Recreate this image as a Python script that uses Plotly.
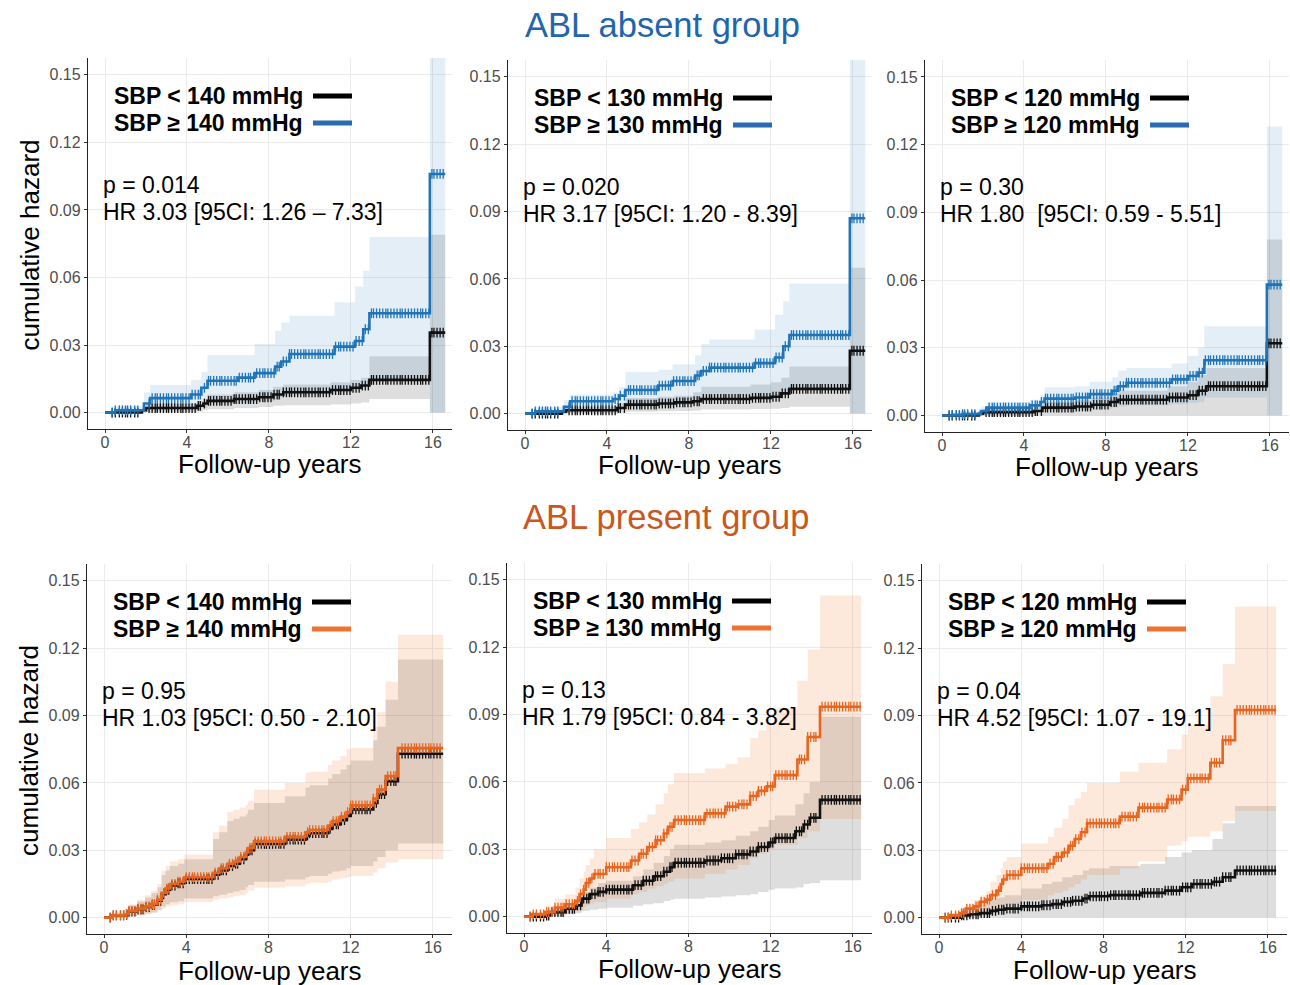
import numpy as np
import plotly.graph_objects as go

# ---------------- data ----------------
# Panel 1: ABL absent, SBP 140
P1_BLK_T = [0, 1.8, 2.0, 4.5, 4.8, 5.0, 6.3, 7.5, 8.2, 8.7, 11.0, 12.0, 12.5, 12.9, 15.85, 16.6]
P1_BLK_V = [0, 0.001, 0.002, 0.003, 0.004, 0.0052, 0.006, 0.0068, 0.008, 0.009, 0.010, 0.011, 0.012, 0.0145, 0.0355, 0.0355]
P1_BLK_HI = [0, 0.002, 0.004, 0.005, 0.006, 0.008, 0.009, 0.010, 0.0115, 0.0125, 0.0135, 0.0145, 0.0155, 0.025, 0.079, 0.079]
P1_BLK_LO = [0, 0, 0.0003, 0.0005, 0.001, 0.0015, 0.002, 0.0025, 0.003, 0.0033, 0.0036, 0.004, 0.0045, 0.006, 0, 0]
P1_COL_T = [0, 0.5, 1.9, 2.2, 4.2, 4.7, 5.0, 6.5, 7.3, 8.3, 8.6, 9.0, 11.2, 12.2, 12.6, 12.9, 15.85, 16.6]
P1_COL_V = [0, 0.001, 0.004, 0.0064, 0.008, 0.011, 0.0141, 0.0155, 0.0175, 0.0204, 0.0227, 0.026, 0.0293, 0.0318, 0.037, 0.0441, 0.106, 0.106]
P1_COL_HI = [0, 0.003, 0.009, 0.0123, 0.0145, 0.018, 0.0256, 0.0256, 0.0305, 0.0363, 0.040, 0.043, 0.049, 0.056, 0.063, 0.078, 0.17, 0.17]
P1_COL_LO = [0, 0, 0.0003, 0.001, 0.0015, 0.002, 0.004, 0.0045, 0.005, 0.006, 0.007, 0.008, 0.009, 0.010, 0.012, 0.015, 0, 0]

# Panel 2: ABL absent, SBP 130
P2_BLK_T = [0, 1.8, 2.0, 4.5, 4.9, 6.5, 7.3, 8.2, 8.6, 11.0, 12.0, 12.5, 12.9, 15.85, 16.6]
P2_BLK_V = [0, 0.0008, 0.0015, 0.0025, 0.004, 0.0045, 0.005, 0.0055, 0.0065, 0.007, 0.0075, 0.009, 0.011, 0.028, 0.028]
P2_BLK_HI = [0, 0.002, 0.003, 0.0045, 0.007, 0.0075, 0.008, 0.0095, 0.012, 0.013, 0.014, 0.016, 0.021, 0.065, 0.065]
P2_BLK_LO = [0, 0, 0.0002, 0.0004, 0.0008, 0.001, 0.0012, 0.0014, 0.0018, 0.002, 0.0022, 0.0025, 0.003, 0, 0]
P2_COL_T = [0, 0.5, 1.9, 2.2, 4.3, 4.6, 4.9, 6.5, 7.2, 8.3, 8.6, 9.0, 11.2, 12.2, 12.6, 12.9, 15.85, 16.6]
P2_COL_V = [0, 0.001, 0.003, 0.0055, 0.0065, 0.008, 0.0105, 0.0125, 0.0145, 0.017, 0.019, 0.0205, 0.0225, 0.025, 0.030, 0.035, 0.087, 0.087]
P2_COL_HI = [0, 0.003, 0.006, 0.0085, 0.0095, 0.012, 0.0185, 0.0195, 0.022, 0.026, 0.031, 0.033, 0.0375, 0.044, 0.050, 0.058, 0.17, 0.17]
P2_COL_LO = [0, 0, 0.0003, 0.001, 0.0012, 0.002, 0.003, 0.0035, 0.004, 0.005, 0.0055, 0.006, 0.007, 0.008, 0.010, 0.012, 0, 0]

# Panel 3: ABL absent, SBP 120
P3_BLK_T = [0, 1.8, 2.0, 4.5, 4.9, 6.5, 7.3, 8.2, 8.6, 11.0, 12.0, 12.5, 12.9, 15.85, 16.6]
P3_BLK_V = [0, 0.0008, 0.0015, 0.002, 0.0035, 0.004, 0.0048, 0.006, 0.007, 0.008, 0.009, 0.011, 0.013, 0.032, 0.032]
P3_BLK_HI = [0, 0.002, 0.003, 0.004, 0.006, 0.007, 0.008, 0.010, 0.011, 0.013, 0.015, 0.018, 0.021, 0.078, 0.078]
P3_BLK_LO = [0, 0, 0, 0, 0, 0, 0, 0, 0, 0, 0, 0, 0, 0, 0]
P3_COL_T = [0, 0.5, 1.0, 1.9, 2.2, 4.3, 4.8, 5.0, 6.5, 7.2, 8.3, 8.6, 9.0, 11.2, 12.0, 12.5, 12.8, 15.85, 16.6]
P3_COL_V = [0, 0.0003, 0.0006, 0.002, 0.0035, 0.0045, 0.006, 0.0075, 0.008, 0.0095, 0.011, 0.013, 0.0145, 0.016, 0.0175, 0.019, 0.0245, 0.058, 0.058]
P3_COL_HI = [0, 0.001, 0.002, 0.004, 0.006, 0.007, 0.009, 0.0125, 0.013, 0.015, 0.017, 0.020, 0.021, 0.023, 0.0265, 0.030, 0.0395, 0.128, 0.128]
P3_COL_LO = [0, 0, 0, 0.0002, 0.0005, 0.001, 0.0015, 0.002, 0.0025, 0.003, 0.0035, 0.004, 0.0045, 0.005, 0.0055, 0.006, 0.008, 0, 0]

# Panel 4: ABL present, SBP 140
P4_COL_T = [0, 0.4, 1.0, 1.2, 1.6, 2.0, 2.3, 2.6, 2.8, 3.0, 3.2, 3.6, 3.9, 5.3, 5.6, 6.0, 6.3, 6.6, 6.9, 7.0, 7.3,
            8.8, 9.8, 10.0, 10.9, 11.1, 11.5, 11.8, 12.0, 13.1, 13.3, 13.7, 14.3, 16.5]
P4_COL_V = [0, 0.001, 0.0015, 0.003, 0.004, 0.005, 0.006, 0.008, 0.011, 0.013, 0.015, 0.016, 0.018, 0.020, 0.022, 0.024,
            0.025, 0.027, 0.029, 0.031, 0.034, 0.036, 0.038, 0.039, 0.041, 0.043, 0.045, 0.047, 0.050, 0.053, 0.057,
            0.063, 0.0755, 0.0755]
P4_COL_HI = [0, 0.002, 0.004, 0.006, 0.008, 0.010, 0.012, 0.015, 0.021, 0.023, 0.025, 0.026, 0.028, 0.038, 0.041, 0.047,
             0.048, 0.049, 0.050, 0.052, 0.057, 0.060, 0.0645, 0.065, 0.068, 0.070, 0.072, 0.075, 0.0756, 0.085, 0.0915,
             0.105, 0.126, 0.126]
P4_COL_LO = [0, 0, 0.0002, 0.0005, 0.001, 0.0015, 0.002, 0.003, 0.004, 0.005, 0.0055, 0.006, 0.007, 0.008, 0.0085, 0.009,
             0.0095, 0.010, 0.011, 0.012, 0.0133, 0.014, 0.015, 0.0155, 0.016, 0.017, 0.0175, 0.018, 0.0185, 0.020, 0.022,
             0.0245, 0.026, 0.026]
P4_BLK_T = P4_COL_T
P4_BLK_V = [0, 0.001, 0.0012, 0.0027, 0.0037, 0.0047, 0.0057, 0.0075, 0.0104, 0.0124, 0.0143, 0.0153, 0.0172, 0.0191,
            0.021, 0.023, 0.024, 0.026, 0.028, 0.030, 0.0328, 0.0347, 0.0366, 0.0376, 0.0395, 0.0415, 0.0434, 0.0453,
            0.0482, 0.0511, 0.055, 0.0608, 0.073, 0.073]
P4_BLK_HI = [0, 0.0018, 0.0035, 0.0055, 0.0072, 0.009, 0.011, 0.0135, 0.019, 0.021, 0.023, 0.024, 0.026, 0.035, 0.038,
             0.043, 0.044, 0.045, 0.046, 0.048, 0.051, 0.054, 0.058, 0.059, 0.062, 0.064, 0.066, 0.068, 0.070, 0.079,
             0.085, 0.097, 0.115, 0.115]
P4_BLK_LO = [0, 0, 0.0002, 0.0007, 0.0012, 0.0018, 0.0024, 0.0035, 0.005, 0.006, 0.0068, 0.0073, 0.0085, 0.0095, 0.0102,
             0.011, 0.0116, 0.0123, 0.0135, 0.0145, 0.016, 0.017, 0.018, 0.0185, 0.0195, 0.0205, 0.021, 0.022, 0.023,
             0.025, 0.027, 0.030, 0.033, 0.033]

# Panel 5: ABL present, SBP 130
P5_COL_T = [0, 0.4, 1.0, 1.5, 2.0, 2.5, 2.7, 2.9, 3.0, 3.2, 3.4, 4.0, 5.2, 5.6, 6.0, 6.4, 6.8, 7.0, 7.3, 8.8, 9.8, 10.4,
            11.0, 11.4, 11.8, 12.2, 13.3, 13.8, 14.4, 16.4]
P5_COL_V = [0, 0.001, 0.002, 0.004, 0.0055, 0.007, 0.010, 0.012, 0.015, 0.017, 0.019, 0.022, 0.025, 0.028, 0.031, 0.034,
            0.037, 0.040, 0.043, 0.046, 0.049, 0.050, 0.0537, 0.056, 0.058, 0.063, 0.070, 0.080, 0.0935, 0.0935]
P5_COL_HI = [0, 0.002, 0.005, 0.008, 0.010, 0.013, 0.017, 0.020, 0.023, 0.026, 0.030, 0.035, 0.039, 0.042, 0.0455, 0.050,
             0.055, 0.059, 0.064, 0.066, 0.068, 0.071, 0.0795, 0.083, 0.086, 0.093, 0.105, 0.119, 0.143, 0.143]
P5_COL_LO = [0, 0, 0.0003, 0.0008, 0.0015, 0.0022, 0.003, 0.004, 0.005, 0.0058, 0.0065, 0.008, 0.010, 0.011, 0.0125,
             0.0135, 0.0145, 0.0155, 0.017, 0.019, 0.021, 0.023, 0.026, 0.028, 0.030, 0.032, 0.035, 0.038, 0.0435, 0.0435]
P5_BLK_T = [0, 1.0, 1.3, 2.0, 2.5, 2.8, 3.2, 3.6, 4.0, 5.3, 5.8, 6.3, 6.8, 7.1, 7.3, 8.8, 9.6, 10.3, 11.0, 11.4, 11.9,
            12.2, 13.2, 13.6, 13.9, 14.4, 16.4]
P5_BLK_V = [0, 0.0005, 0.002, 0.0035, 0.005, 0.008, 0.010, 0.011, 0.012, 0.014, 0.016, 0.018, 0.020, 0.022, 0.024, 0.025,
            0.026, 0.0277, 0.029, 0.031, 0.033, 0.035, 0.038, 0.041, 0.044, 0.052, 0.052]
P5_BLK_HI = [0, 0.0015, 0.004, 0.006, 0.008, 0.011, 0.013, 0.015, 0.016, 0.018, 0.021, 0.024, 0.027, 0.030, 0.032, 0.033,
             0.034, 0.036, 0.038, 0.040, 0.043, 0.045, 0.050, 0.055, 0.060, 0.089, 0.089]
P5_BLK_LO = [0, 0, 0.0003, 0.001, 0.0015, 0.0025, 0.003, 0.0035, 0.004, 0.0048, 0.0055, 0.006, 0.007, 0.0075, 0.008,
             0.0085, 0.009, 0.0095, 0.010, 0.011, 0.012, 0.0125, 0.013, 0.0145, 0.015, 0.0162, 0.0162]

# Panel 6: ABL present, SBP 120
P6_COL_T = [0, 0.5, 1.0, 1.3, 1.7, 2.0, 2.3, 2.5, 2.8, 3.0, 3.1, 3.3, 4.0, 5.3, 5.6, 6.0, 6.3, 6.6, 6.9, 7.2, 8.8, 9.7,
            11.1, 11.8, 12.1, 13.2, 13.8, 14.4, 16.4]
P6_COL_V = [0, 0.001, 0.002, 0.004, 0.005, 0.007, 0.008, 0.010, 0.012, 0.015, 0.017, 0.019, 0.022, 0.024, 0.027, 0.029,
            0.032, 0.035, 0.038, 0.042, 0.045, 0.049, 0.0526, 0.057, 0.062, 0.069, 0.079, 0.0925, 0.0925]
P6_COL_HI = [0, 0.002, 0.004, 0.006, 0.008, 0.010, 0.012, 0.016, 0.019, 0.022, 0.025, 0.027, 0.033, 0.036, 0.040, 0.044,
             0.050, 0.053, 0.056, 0.060, 0.065, 0.069, 0.075, 0.0815, 0.086, 0.0986, 0.113, 0.1386, 0.1386]
P6_COL_LO = [0, 0, 0.0002, 0.0006, 0.001, 0.0015, 0.002, 0.003, 0.004, 0.005, 0.0055, 0.006, 0.008, 0.010, 0.011, 0.012,
             0.0135, 0.015, 0.017, 0.019, 0.022, 0.025, 0.032, 0.034, 0.036, 0.0385, 0.043, 0.0475, 0.0475]
P6_BLK_T = [0, 1.1, 1.5, 2.0, 2.5, 2.8, 3.2, 4.0, 5.0, 5.5, 6.0, 6.5, 7.0, 7.3, 8.3, 9.8, 11.0, 11.8, 12.3, 13.3, 13.8,
            14.4, 16.4]
P6_BLK_V = [0, 0.001, 0.0015, 0.002, 0.003, 0.0035, 0.004, 0.005, 0.0055, 0.006, 0.007, 0.0075, 0.0085, 0.0095, 0.010,
            0.011, 0.012, 0.0135, 0.015, 0.016, 0.018, 0.021, 0.021]
P6_BLK_HI = [0, 0.004, 0.005, 0.006, 0.008, 0.009, 0.010, 0.013, 0.015, 0.016, 0.018, 0.019, 0.021, 0.022, 0.023, 0.024,
             0.027, 0.029, 0.030, 0.035, 0.042, 0.0497, 0.0497]
P6_BLK_LO = [0, 0, 0, 0, 0, 0, 0, 0, 0, 0, 0, 0, 0, 0, 0, 0, 0, 0, 0, 0, 0, 0, 0]

# censoring times (dense tick marks on the curves)
CENSOR_TOP = [0.35, 0.5, 0.7, 0.85, 1.0, 1.1, 1.25, 1.45, 1.6, 2.15, 2.3, 2.45, 2.55, 2.7, 2.85, 3.0, 3.1, 3.25, 3.4,
              3.55, 3.7, 3.8, 3.95, 4.1, 4.25, 4.4, 4.55, 4.65, 4.85, 5.05, 5.15, 5.3, 5.45, 5.6, 5.7, 5.85, 6.0, 6.15,
              6.3, 6.4, 6.55, 6.7, 6.85, 7.0, 7.1, 7.25, 7.4, 7.55, 7.7, 7.8, 7.95, 8.1, 8.25, 8.4, 8.5, 8.7, 8.85,
              9.0, 9.1, 9.25, 9.4, 9.55, 9.7, 9.8, 9.95, 10.1, 10.25, 10.4, 10.5, 10.65, 10.8, 10.95, 11.1, 11.25,
              11.4, 11.5, 11.65, 11.8, 11.95, 12.1, 12.25, 12.4, 12.55, 12.7, 12.85, 13.0, 13.1, 13.25, 13.4, 13.55,
              13.7, 13.8, 13.95, 14.1, 14.25, 14.4, 14.5, 14.65, 14.8, 14.95, 15.1, 15.25, 15.4, 15.5, 15.65, 15.8,
              15.95, 16.05, 16.2, 16.35, 16.5]
CENSOR_BOT = [0.3, 0.45, 0.6, 0.8, 0.95, 1.1, 1.2, 1.35, 1.5, 1.65, 1.8, 1.9, 2.05, 2.2, 2.35, 2.45, 2.6, 2.75, 2.9,
              3.05, 3.15, 3.3, 3.45, 3.6, 3.7, 3.85, 4.0, 4.15, 4.3, 4.4, 4.55, 4.7, 4.85, 5.0, 5.1, 5.25, 5.4, 5.55,
              5.7, 5.8, 5.95, 6.1, 6.25, 6.4, 6.5, 6.65, 6.8, 6.95, 7.1, 7.2, 7.35, 7.5, 7.65, 7.8, 7.9, 8.05, 8.2,
              8.35, 8.5, 8.6, 8.75, 8.9, 9.05, 9.2, 9.3, 9.45, 9.6, 9.75, 9.9, 10.0, 10.15, 10.3, 10.45, 10.6, 10.7,
              10.85, 11.0, 11.15, 11.3, 11.4, 11.55, 11.7, 11.85, 12.0, 12.1, 12.25, 12.4, 12.55, 12.7, 12.8, 12.95,
              13.1, 13.25, 13.4, 13.5, 13.65, 13.8, 13.95, 14.1, 14.2, 14.5, 14.65, 14.8, 14.95, 15.1, 15.2, 15.35,
              15.5, 15.65, 15.8, 15.9, 16.05, 16.2, 16.35]

SBP_CUTS = ["140", "130", "120"]
STATS_P = ["p = 0.014", "p = 0.020", "p = 0.30", "p = 0.95", "p = 0.13", "p = 0.04"]
STATS_HR = ["HR 3.03 [95CI: 1.26 – 7.33]", "HR 3.17 [95CI: 1.20 - 8.39]", "HR 1.80  [95CI: 0.59 - 5.51]",
            "HR 1.03 [95CI: 0.50 - 2.10]", "HR 1.79 [95CI: 0.84 - 3.82]", "HR 4.52 [95CI: 1.07 - 19.1]"]
GROUP_TITLES = ["ABL absent group", "ABL present group"]
X_TICKS = [0, 4, 8, 12, 16]
Y_TICKS = [0.00, 0.03, 0.06, 0.09, 0.12, 0.15]

PANELS = [
    (P1_BLK_T, P1_BLK_V, P1_BLK_LO, P1_BLK_HI, P1_COL_T, P1_COL_V, P1_COL_LO, P1_COL_HI),
    (P2_BLK_T, P2_BLK_V, P2_BLK_LO, P2_BLK_HI, P2_COL_T, P2_COL_V, P2_COL_LO, P2_COL_HI),
    (P3_BLK_T, P3_BLK_V, P3_BLK_LO, P3_BLK_HI, P3_COL_T, P3_COL_V, P3_COL_LO, P3_COL_HI),
    (P4_BLK_T, P4_BLK_V, P4_BLK_LO, P4_BLK_HI, P4_COL_T, P4_COL_V, P4_COL_LO, P4_COL_HI),
    (P5_BLK_T, P5_BLK_V, P5_BLK_LO, P5_BLK_HI, P5_COL_T, P5_COL_V, P5_COL_LO, P5_COL_HI),
    (P6_BLK_T, P6_BLK_V, P6_BLK_LO, P6_BLK_HI, P6_COL_T, P6_COL_V, P6_COL_LO, P6_COL_HI),
]

# ---------------- styling / layout ----------------
W, H = 1290, 985
FONT = "Liberation Sans, Arial, sans-serif"
BLUE = "#1f74b8"
BLUE_LEG = "#2b6cb0"
ORANGE = "#e8651e"
ORANGE_LEG = "#f07232"
BAND_GREY = "rgba(0,0,0,0.13)"
BAND_BLUE = "rgba(31,119,180,0.12)"
BAND_ORANGE = "rgba(240,112,40,0.16)"

# panel boxes in pixels: (left, right, top, bottom)
BOXES = [(88, 452, 58, 429), (508, 872, 60, 430), (925, 1289, 60, 432),
         (87, 452, 564, 934), (507, 872, 563, 933), (922, 1287, 564, 934)]
XTITLE_DY = [35, 35, 35, 37, 36, 36]
X_RANGE = [-0.83, 16.93]
Y_RANGE = [-0.0073, 0.1575]

fig = go.Figure()
annotations = []
shapes = []


def step_at(ts, vs, c):
    i = np.searchsorted(np.asarray(ts), c, side="right") - 1
    return float(np.asarray(vs)[i])


for k, (bt, bv, blo, bhi, ct, cv, clo, chi) in enumerate(PANELS):
    n = k + 1
    xa = "x" if n == 1 else f"x{n}"
    ya = "y" if n == 1 else f"y{n}"
    top_row = k < 3
    col = BLUE if top_row else ORANGE
    col_leg = BLUE_LEG if top_row else ORANGE_LEG
    band = BAND_BLUE if top_row else BAND_ORANGE
    censor = CENSOR_TOP if top_row else CENSOR_BOT

    # confidence bands
    for t, lo, hi, fc in [(bt, blo, bhi, BAND_GREY), (ct, clo, chi, band)]:
        fig.add_trace(go.Scatter(x=t, y=hi, mode="lines", line=dict(width=0, shape="hv"),
                                 hoverinfo="skip", showlegend=False, xaxis=xa, yaxis=ya))
        fig.add_trace(go.Scatter(x=t, y=lo, mode="lines", line=dict(width=0, shape="hv"),
                                 fill="tonexty", fillcolor=fc, hoverinfo="skip", showlegend=False,
                                 xaxis=xa, yaxis=ya))
    # curves + censor marks
    for t, v, lc in [(bt, bv, "#111111"), (ct, cv, col)]:
        fig.add_trace(go.Scatter(x=t, y=v, mode="lines", line=dict(color=lc, width=2.6, shape="hv"),
                                 showlegend=False, xaxis=xa, yaxis=ya))
        cs = [c for c in censor if c <= t[-1]]
        fig.add_trace(go.Scatter(x=cs, y=[step_at(t, v, c) for c in cs], mode="markers",
                                 marker=dict(symbol="line-ns", size=7, line=dict(color=lc, width=1.3)),
                                 showlegend=False, xaxis=xa, yaxis=ya))

    L, R, T, B = BOXES[k]
    ax_common = dict(showgrid=True, gridcolor="#EBEBEB", gridwidth=1, zeroline=False,
                     showline=True, linecolor="#222222", linewidth=1.3,
                     ticks="outside", ticklen=3, tickcolor="#333333",
                     tickfont=dict(family=FONT, size=16, color="#4D4D4D"))
    fig.layout[f"xaxis{'' if n == 1 else n}"] = dict(
        ax_common, domain=[L / W, R / W], range=X_RANGE, tickvals=X_TICKS,
        ticktext=[str(v) for v in X_TICKS], anchor=ya, ticklabelstandoff=-4)
    fig.layout[f"yaxis{'' if n == 1 else n}"] = dict(
        ax_common, domain=[1 - B / H, 1 - T / H], range=Y_RANGE, tickvals=Y_TICKS,
        ticktext=[f"{v:.2f}" for v in Y_TICKS], anchor=xa)

    cut = SBP_CUTS[k % 3]
    # legend (text + line sample)
    leg_y = [T + 38, T + 65]
    for j, (lab, lc) in enumerate([(f"SBP &lt; {cut} mmHg", "#000000"), (f"SBP ≥ {cut} mmHg", col_leg)]):
        annotations.append(dict(x=(L + 24) / W, y=1 - leg_y[j] / H, xref="paper", yref="paper",
                                text=f"<b>{lab}</b>", showarrow=False, xanchor="left", yanchor="middle",
                                font=dict(family=FONT, size=23, color="#000000")))
        shapes.append(dict(type="line", xref="paper", yref="paper",
                           x0=(L + 225) / W, x1=(L + 264) / W, y0=1 - leg_y[j] / H, y1=1 - leg_y[j] / H,
                           line=dict(color=lc, width=5)))
    # stats text
    sy = [T + 127, T + 154]
    for j, txt in enumerate([STATS_P[k], STATS_HR[k]]):
        annotations.append(dict(x=(L + 13) / W, y=1 - sy[j] / H, xref="paper", yref="paper",
                                text=txt, showarrow=False, xanchor="left", yanchor="middle",
                                font=dict(family=FONT, size=23, color="#000000")))
    # x title
    annotations.append(dict(x=(L + R) / 2 / W, y=1 - (B + XTITLE_DY[k]) / H, xref="paper", yref="paper",
                            text="Follow-up years", showarrow=False, xanchor="center", yanchor="middle",
                            font=dict(family=FONT, size=26, color="#000000")))
    if k % 3 == 0:
        annotations.append(dict(x=(L - 58) / W, y=1 - (T + B) / 2 / H - 0.002, xref="paper", yref="paper",
                                text="cumulative hazard", showarrow=False, textangle=-90,
                                xanchor="center", yanchor="middle",
                                font=dict(family=FONT, size=26, color="#000000")))

annotations.append(dict(x=662 / W, y=1 - 25 / H, xref="paper", yref="paper", text=GROUP_TITLES[0],
                        showarrow=False, xanchor="center", yanchor="middle",
                        font=dict(family=FONT, size=34.5, color="#2166ac")))
annotations.append(dict(x=666 / W, y=1 - 517 / H, xref="paper", yref="paper", text=GROUP_TITLES[1],
                        showarrow=False, xanchor="center", yanchor="middle",
                        font=dict(family=FONT, size=34.5, color="#c8581e")))

fig.update_layout(width=W, height=H, margin=dict(l=0, r=0, t=0, b=0),
                  paper_bgcolor="white", plot_bgcolor="white",
                  annotations=annotations, shapes=shapes, showlegend=False)
fig.write_html("out.html", config={"displayModeBar": False},
               post_script="document.body.style.margin='0';document.body.style.overflow='hidden';")
